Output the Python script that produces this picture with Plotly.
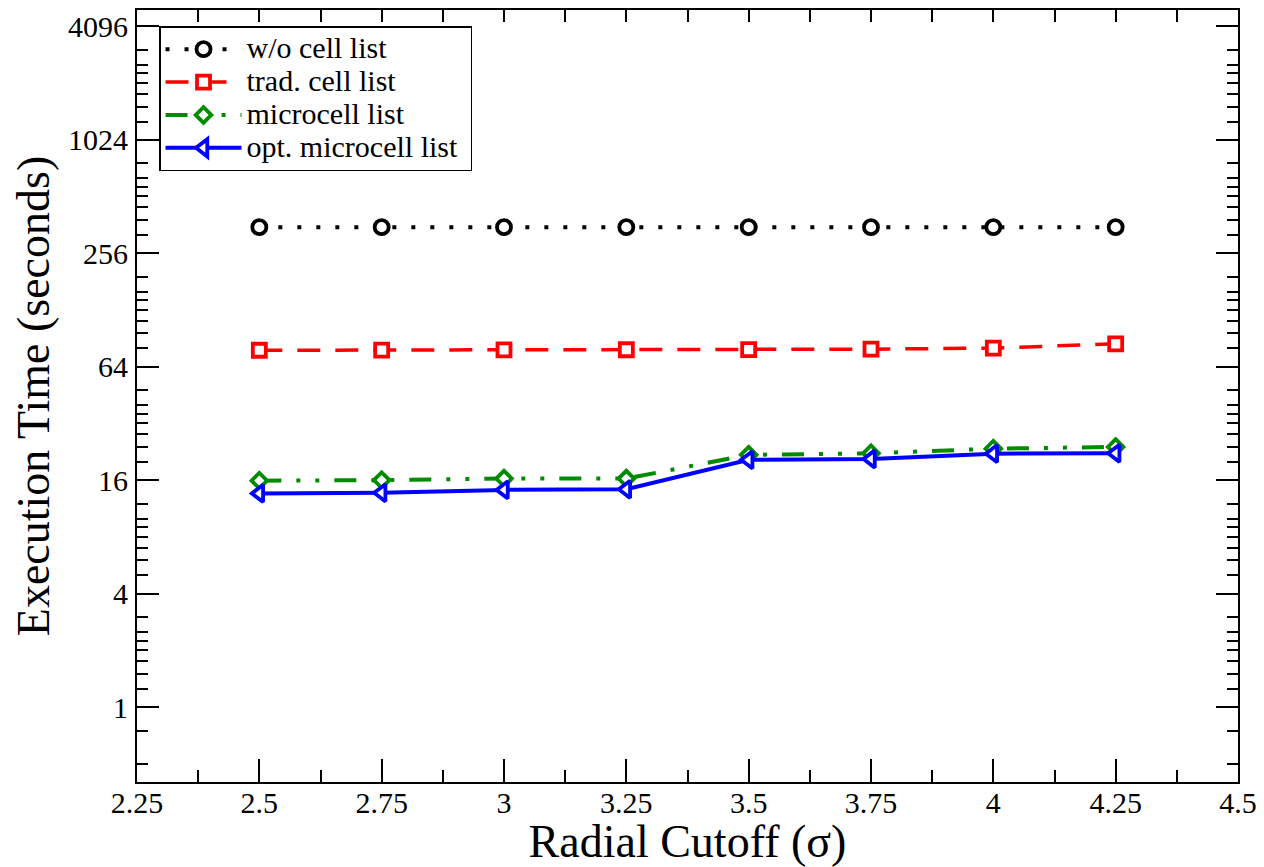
import math
import plotly.graph_objects as go

# ---- data ----
cutoff = [2.5, 2.75, 3.0, 3.25, 3.5, 3.75, 4.0, 4.25]
wo_cell = [352, 352, 352, 352, 352, 352, 352, 352]
trad_cell = [78.2, 78.4, 78.5, 78.7, 78.9, 79.3, 80.3, 84.6]
micro_cell = [15.9, 16.0, 16.3, 16.3, 21.8, 22.2, 23.5, 24.0]
opt_micro = [13.6, 13.7, 14.2, 14.3, 20.5, 20.7, 22.1, 22.2]

series_names = ["w/o cell list", "trad. cell list", "microcell list", "opt. microcell list"]

x_ticks = [2.25, 2.5, 2.75, 3.0, 3.25, 3.5, 3.75, 4.0, 4.25, 4.5]
x_tick_labels = ["2.25", "2.5", "2.75", "3", "3.25", "3.5", "3.75", "4", "4.25", "4.5"]
y_ticks = [1, 4, 16, 64, 256, 1024, 4096]
y_tick_labels = ["1", "4", "16", "64", "256", "1024", "4096"]
y_minor_factors = [1.25, 1.5, 1.75, 2, 2.25, 2.5, 3]

FONT = "Liberation Serif, Times New Roman, serif"

y_minor = [0.5, 0.75]
for b in y_ticks[:-1]:
    y_minor += [b * f for f in y_minor_factors]
x_minor = [2.25 + 0.125 * (2 * i + 1) for i in range(9)]

fig = go.Figure()

styles = [
    dict(color="black", dash="4px,15px", width=4, symbol="circle", size=14),
    dict(color="#ff0000", dash="23px,15px", width=3.5, symbol="square", size=13),
    dict(color="#008b00", dash="22px,15px,4px,15px,4px,15px", width=4, symbol="diamond", size=12),
    dict(color="#0000ff", dash="solid", width=4, symbol="triangle-left", size=15),
]
for name, ys, st in zip(series_names, [wo_cell, trad_cell, micro_cell, opt_micro], styles):
    fig.add_trace(go.Scatter(
        x=cutoff, y=ys, name='<span style="font-size:30px">' + name + '\u00a0</span>',
        mode="lines+markers",
        line=dict(color=st["color"], dash=st["dash"], width=st["width"]),
        marker=dict(symbol=st["symbol"], size=st["size"], color="white",
                    line=dict(color=st["color"], width=3.8)),
    ))

# invisible trace to host the mirrored top/right axes
fig.add_trace(go.Scatter(x=[3], y=[10], xaxis="x2", yaxis="y2", mode="markers",
                         marker=dict(opacity=0), showlegend=False, hoverinfo="skip"))

ylog_range = [math.log10(0.4), math.log10(5000)]
axis_common = dict(showline=True, linecolor="black", linewidth=2, ticks="inside",
                   tickcolor="black", tickwidth=2, showgrid=False, zeroline=False,
                   automargin=False)

# the page body adds an 8px offset, so the figure is 8px smaller in each direction
fig.update_layout(
    width=1256, height=859,
    margin=dict(l=129, r=26, t=2, b=85),
    paper_bgcolor="white", plot_bgcolor="white",
    font=dict(family=FONT, color="black", size=30),
    xaxis=dict(**axis_common, range=[2.25, 4.5], tickmode="array", tickvals=x_ticks,
               ticktext=x_tick_labels, ticklen=23,
               tickfont=dict(family=FONT, size=30, color="black"),
               ticklabelstandoff=-7,
               minor=dict(tickmode="array", tickvals=x_minor, ticks="inside", ticklen=12,
                          tickwidth=2, tickcolor="black"),
               title=dict(text="Radial Cutoff (σ)", font=dict(family=FONT, size=46, color="black"),
                          standoff=4)),
    yaxis=dict(**axis_common, type="log", range=ylog_range, tickmode="array",
               tickvals=y_ticks, ticktext=y_tick_labels, ticklen=22,
               tickfont=dict(family=FONT, size=30, color="black"),
               ticklabelstandoff=1,
               minor=dict(tickmode="array", tickvals=y_minor, ticks="inside", ticklen=11,
                          tickwidth=2, tickcolor="black"),
               title=dict(text="Execution Time (seconds)", font=dict(family=FONT, size=46, color="black"),
                          standoff=11)),
    xaxis2=dict(**axis_common, overlaying="x", side="top", anchor="y2", range=[2.25, 4.5],
                tickmode="array", tickvals=x_ticks, ticklen=12, showticklabels=False,
                minor=dict(tickmode="array", tickvals=x_minor, ticks="inside", ticklen=12,
                           tickwidth=2, tickcolor="black")),
    yaxis2=dict(**axis_common, overlaying="y", side="right", anchor="x2", type="log",
                range=ylog_range, tickmode="array", tickvals=y_ticks, ticklen=22,
                showticklabels=False,
                minor=dict(tickmode="array", tickvals=y_minor, ticks="inside", ticklen=11,
                           tickwidth=2, tickcolor="black")),
    legend=dict(x=0.02, y=0.979, xanchor="left", yanchor="top", bgcolor="white",
                bordercolor="black", borderwidth=1.5,
                font=dict(family=FONT, size=23, color="black"),
                tracegroupgap=0, itemwidth=76),
    showlegend=True,
)

fig.write_html("out.html")
